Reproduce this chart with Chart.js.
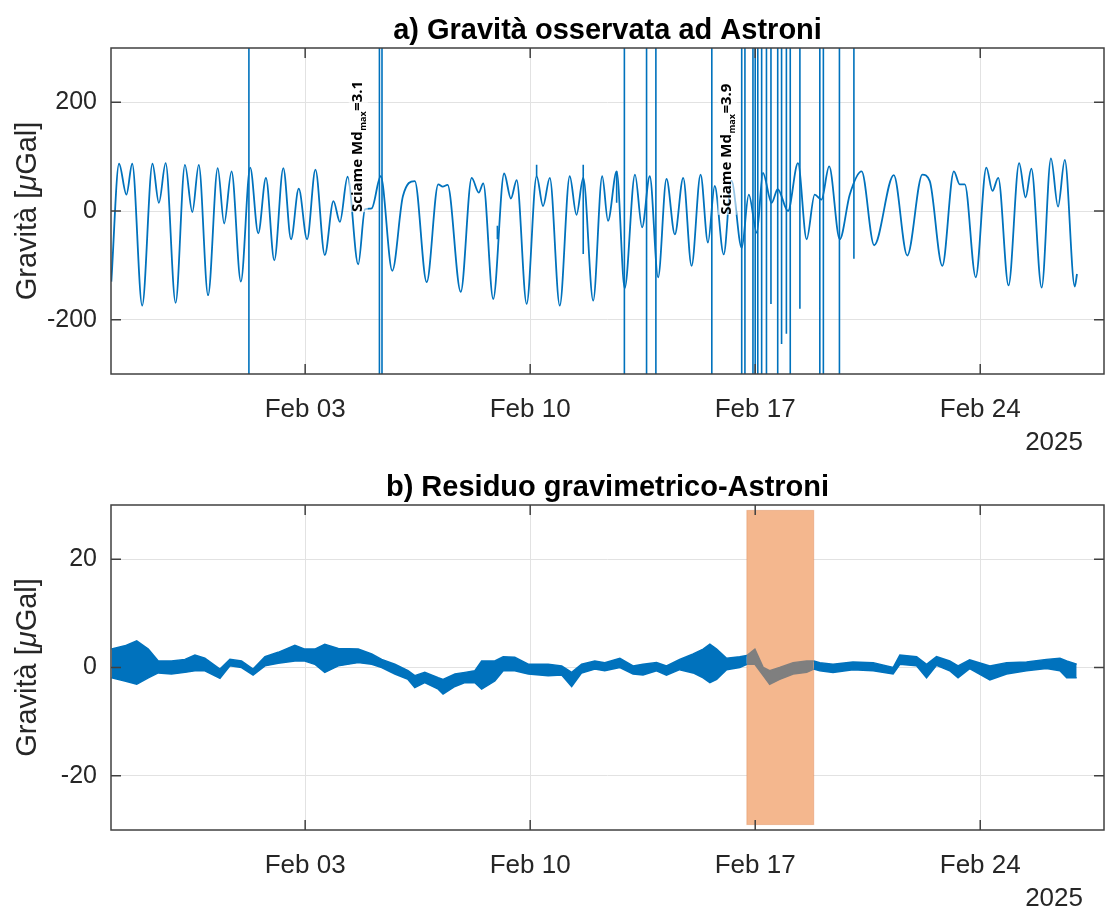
<!DOCTYPE html>
<html>
<head>
<meta charset="utf-8">
<script src="https://cdn.jsdelivr.net/npm/chart.js@4.4.1/dist/chart.umd.min.js"></script>
<style>
  body { margin: 0; background: #fff; }
  .box { position: absolute; left: 0; width: 1108px; }
</style>
</head>
<body>
<div class="box" style="top:0;height:455px"><canvas id="grav"></canvas></div>
<div class="box" style="top:455px;height:456px"><canvas id="res"></canvas></div>
<script>
// x values are days since 28 Jan 2025 00:00
var xTicks = [6, 13, 20, 27];
var xTickLabels = ['Feb 03', 'Feb 10', 'Feb 17', 'Feb 24'];
var yearLabel = '2025';

// a) observed gravity, turning points of the tidal curve [uGal]
var gravT = [-0.03, 0.21, 0.44, 0.62, 0.93, 1.25, 1.45, 1.66, 1.97, 2.26, 2.49, 2.69, 2.98, 3.28, 3.48, 3.71,
  4.00, 4.29, 4.54, 4.78, 5.04, 5.32, 5.56, 5.80, 6.06, 6.32, 6.61, 6.88, 7.08, 7.32, 7.65, 7.86, 8.07, 8.35,
  8.71, 9.04, 9.41, 9.78, 10.14, 10.28, 10.43, 10.84, 11.18, 11.40, 11.54, 11.85, 12.19, 12.40, 12.58, 12.89,
  13.20, 13.40, 13.61, 13.92, 14.23, 14.44, 14.65, 14.96, 15.24, 15.42, 15.69, 15.94, 16.26, 16.48, 16.72,
  16.98, 17.24, 17.50, 17.76, 18.02, 18.30, 18.53, 18.74, 19.02, 19.26, 19.58, 19.80, 20.05, 20.24, 20.51,
  20.70, 21.02, 21.33, 21.60, 21.85, 22.06, 22.30, 22.63, 22.94, 23.31, 23.70, 24.31, 24.73, 25.20, 25.43,
  25.82, 26.18, 26.36, 26.52, 26.86, 27.19, 27.38, 27.56, 27.88, 28.21, 28.41, 28.59, 28.91, 29.20, 29.42,
  29.63, 29.94, 30.01];
var gravV = [-130, 87, 30, 87, -174, 87, 15, 88, -169, 85, -2, 85, -155, 79, -23, 73,
  -130, 80, -41, 61, -91, 79, -52, 41, -52, 76, -81, 18, -20, 63, -98, 3, 5, 64,
  -110, 27, 55, -131, 49, 45, 48, -149, 61, 34, 51, -162, 69, 23, 57, -171,
  64, 9, 61, -174, 64, -7, 61, -165, 64, -18, 73, -142, 67, -30, 64,
  -122, 59, -43, 61, -101, 67, -58, 46, -80, 56, -68, 30, -40, 70, 15,
  40, 0, 88, -52, 30, 21, 82, -52, 30, 73, -63, 66, -82, 67, 55,
  -101, 73, 49, 49, -122, 80, 37, 61, -137, 88, 25, 78, -141, 97, 8,
  94, -139, -116];

// a) spikes in the record: time, lowest and highest value reached
var spikeT  = [4.25, 8.31, 8.39, 11.98, 13.20, 14.65, 15.69, 15.93, 16.62, 16.91, 18.65, 19.58, 19.68,
  19.93, 20.00, 20.08, 20.20, 20.35, 20.49, 20.70, 20.82, 20.97, 21.09, 21.39, 22.01, 22.12, 22.62, 23.07];
var spikeLo = [-400, -400, -400, -52, 64, -79, 15, -400, -400, -400, -400, -400, -400,
  -400, -400, -400, -400, -400, -171, -400, -245, -226, -400, -180, -400, -400, -400, -88];
var spikeHi = [400, 400, 400, -27, 85, 85, 73, 400, 400, 400, 400, 400, 400,
  400, 400, 400, 400, 400, 400, 400, 400, 400, 400, 400, 400, 400, 400, 400];

// swarm annotations
var swarmT = [7.76, 19.24];
var swarmY = [-2, -7];
var swarmMd = ['3.1', '3.9'];

// b) gravimetric residual, upper / lower edge of the noisy trace [uGal]
var resT = [-0.02, 0.39, 0.76, 1.12, 1.43, 1.84, 2.26, 2.57, 2.88, 3.35, 3.66, 4.02, 4.38, 4.75, 5.16, 5.68,
  5.99, 6.30, 6.61, 7.03, 7.65, 8.07, 8.38, 8.79, 9.20, 9.41, 9.72, 10.14, 10.29, 10.66, 10.97, 11.28,
  11.49, 11.90, 12.16, 12.52, 12.94, 13.56, 13.98, 14.29, 14.60, 15.01, 15.32, 15.79, 16.20, 16.51, 16.93,
  17.24, 17.65, 18.07, 18.38, 18.59, 18.80, 19.11, 19.52, 19.74, 19.99, 20.25, 20.45, 20.76, 21.18, 21.60,
  21.82, 22.01, 22.42, 23.04, 23.67, 24.29, 24.50, 25.02, 25.33, 25.64, 26.05, 26.31, 26.67, 27.30, 27.82,
  28.44, 29.06, 29.48, 29.69, 30.00];
var resHi = [3.4, 4.0, 4.9, 3.4, 1.2, 1.2, 1.5, 2.3, 1.7, -0.3, 1.5, 1.2, -0.3, 2.0, 2.8, 4.1,
  3.4, 3.4, 4.3, 3.5, 3.4, 2.5, 1.5, 0.6, -0.6, -1.5, -0.9, -1.9, -2.2, -1.2, -0.9, -0.6,
  1.2, 1.2, 2.0, 1.9, 0.6, 0.6, 0.3, -0.9, 0.6, 1.2, 0.9, 1.7, 0.3, 0.6, 0.9,
  0.3, 1.5, 2.5, 3.4, 4.3, 3.4, 1.7, 2.0, 2.2, 3.4, 0.0, -0.6, 0.0, 0.9, 1.2,
  1.2, 0.9, 0.6, 1.0, 0.9, 0.0, 2.3, 2.0, 0.6, 2.0, 1.2, 0.3, 1.4, 0.3, 0.9,
  1.0, 1.5, 1.7, 1.2, 0.6];
var resLo = [-1.9, -2.5, -3.1, -1.9, -1.0, -1.2, -0.9, -0.6, -0.6, -2.0, 0.3, 0.0, -1.4, 0.3, 0.8, 1.2,
  1.2, 0.6, -0.9, 0.3, 0.9, 0.6, 0.0, -1.2, -2.2, -3.7, -2.8, -4.0, -4.9, -3.5, -2.8, -2.8,
  -4.0, -2.5, -0.6, -0.6, -1.2, -1.5, -1.4, -3.5, -1.0, -0.3, -0.6, 0.0, -1.2, -1.4, -0.6,
  -1.4, -0.4, -1.0, -1.9, -2.8, -2.2, -0.4, 0.0, 0.6, 0.6, -1.5, -3.1, -2.2, -1.2, -0.9,
  -0.3, -0.6, -0.9, -0.4, -0.6, -1.2, 0.6, 0.3, -1.9, 0.4, -0.6, -1.9, -0.2, -2.3, -1.2,
  -0.6, -0.2, -0.6, -1.9, -1.9];

// b) highlighted interval (swarm)
var bandStart = 19.74, bandEnd = 21.82, bandLo = -29, bandHi = 29;

var BLUE = '#0072bd';
var FONT = '"Liberation Sans", Arial, sans-serif';
var INK = '#262626';

function pts(ts, vs) {
  return ts.map(function (t, i) { return { x: t, y: vs[i] }; });
}
function pick(from, to) {
  var keep = [];
  resT.forEach(function (t, i) { if (t >= from - 1e-6 && t <= to + 1e-6) keep.push(i); });
  return {
    hi: keep.map(function (i) { return { x: resT[i], y: resHi[i] }; }),
    lo: keep.map(function (i) { return { x: resT[i], y: resLo[i] }; })
  };
}

var frame = {
  id: 'frame',
  beforeDatasetsDraw: function (chart, args, o) {
    if (!o.band) return;
    var xs = chart.scales.x, ys = chart.scales.y, ctx = chart.ctx;
    var x0 = xs.getPixelForValue(bandStart), x1 = xs.getPixelForValue(bandEnd);
    var y0 = ys.getPixelForValue(bandHi), y1 = ys.getPixelForValue(bandLo);
    ctx.save();
    ctx.fillStyle = '#f4b78e';
    ctx.fillRect(x0, y0, x1 - x0, y1 - y0);
    ctx.strokeStyle = 'rgba(225,140,90,0.45)';
    ctx.lineWidth = 1;
    ctx.strokeRect(x0, y0, x1 - x0, y1 - y0);
    ctx.restore();
  },
  afterDraw: function (chart, args, o) {
    var a = chart.chartArea, ctx = chart.ctx, xs = chart.scales.x, ys = chart.scales.y;
    ctx.save();
    // swarm labels
    if (o.swarm) {
      swarmT.forEach(function (t, i) {
        var px = xs.getPixelForValue(t), py = ys.getPixelForValue(swarmY[i]);
        ctx.save();
        ctx.translate(px, py);
        ctx.rotate(-Math.PI / 2);
        var big = 'bold 15px "Open Sans", sans-serif', small = 'bold 9px "Open Sans", sans-serif';
        ctx.font = big; var w1 = ctx.measureText('Sciame Md').width;
        ctx.font = small; var w2 = ctx.measureText('max').width;
        ctx.font = big; var w3 = ctx.measureText('=' + swarmMd[i]).width;
        ctx.fillStyle = 'rgba(255,255,255,0.6)';
        ctx.fillRect(0, -13, w1 + w2 + w3 + 2, 19);
        ctx.fillStyle = '#000';
        ctx.textBaseline = 'alphabetic';
        ctx.font = big; ctx.fillText('Sciame Md', 0, 0);
        ctx.font = small; ctx.fillText('max', w1 + 0.5, 4);
        ctx.font = big; ctx.fillText('=' + swarmMd[i], w1 + w2 + 1, 0);
        ctx.restore();
      });
    }
    // box and inward ticks
    ctx.strokeStyle = '#404040';
    ctx.lineWidth = 1.5;
    ctx.strokeRect(a.left, a.top, a.right - a.left, a.bottom - a.top);
    ctx.beginPath();
    xs.ticks.forEach(function (t) {
      var px = xs.getPixelForValue(t.value);
      ctx.moveTo(px, a.bottom); ctx.lineTo(px, a.bottom - 10);
      ctx.moveTo(px, a.top); ctx.lineTo(px, a.top + 10);
    });
    ys.ticks.forEach(function (t) {
      var py = ys.getPixelForValue(t.value);
      ctx.moveTo(a.left, py); ctx.lineTo(a.left + 10, py);
      ctx.moveTo(a.right, py); ctx.lineTo(a.right - 10, py);
    });
    ctx.stroke();
    // title
    ctx.fillStyle = '#000';
    ctx.font = 'bold 29px ' + FONT;
    ctx.textAlign = 'center';
    ctx.textBaseline = 'alphabetic';
    ctx.fillText(o.title, (a.left + a.right) / 2, a.top - 9);
    // y label with italic mu
    ctx.fillStyle = INK;
    ctx.translate(28, (a.top + a.bottom) / 2);
    ctx.rotate(-Math.PI / 2);
    ctx.textAlign = 'left';
    ctx.textBaseline = 'middle';
    var f = '29px ' + FONT, fi = 'italic 29px ' + FONT;
    ctx.font = f; var p1 = ctx.measureText('Gravità [').width, p3 = ctx.measureText('Gal]').width;
    ctx.font = fi; var p2 = ctx.measureText('\u03bc').width;
    var x = -(p1 + p2 + p3) / 2;
    ctx.font = f; ctx.fillText('Gravità [', x, 0);
    ctx.font = fi; ctx.fillText('\u03bc', x + p1, 0);
    ctx.font = f; ctx.fillText('Gal]', x + p1 + p2, 0);
    ctx.restore();
    // year
    ctx.save();
    ctx.fillStyle = INK;
    ctx.font = '26px ' + FONT;
    ctx.textAlign = 'right';
    ctx.textBaseline = 'alphabetic';
    ctx.fillText(yearLabel, 1083, a.bottom + 76);
    ctx.restore();
  }
};

function axes(yMin, yMax, yTicks) {
  return {
    x: {
      type: 'linear', min: -0.04, max: 30.85,
      afterBuildTicks: function (s) { s.ticks = xTicks.map(function (v) { return { value: v }; }); },
      afterFit: function (s) { s.height = 81; },
      grid: { color: '#e2e2e2', drawTicks: false },
      border: { display: false },
      ticks: {
        padding: 20, color: INK, maxRotation: 0, autoSkip: false,
        font: { family: FONT, size: 26 },
        callback: function (v) { return xTickLabels[xTicks.indexOf(v)]; }
      }
    },
    y: {
      min: yMin, max: yMax,
      afterBuildTicks: function (s) { s.ticks = yTicks.map(function (v) { return { value: v }; }); },
      afterFit: function (s) { s.width = 111; },
      grid: { color: '#e2e2e2', drawTicks: false },
      border: { display: false },
      ticks: {
        padding: 14, color: INK,
        font: { family: FONT, size: 25 },
        callback: function (v) { return String(v); }
      }
    }
  };
}

var spikeData = [];
spikeT.forEach(function (t, i) {
  spikeData.push({ x: t, y: spikeLo[i] }, { x: t, y: spikeHi[i] }, { x: t, y: null });
});

new Chart(document.getElementById('grav'), {
  type: 'line',
  data: {
    datasets: [
      { data: pts(gravT, gravV), borderColor: BLUE, borderWidth: 1.8, pointRadius: 0,
        cubicInterpolationMode: 'monotone', fill: false },
      { data: spikeData, borderColor: BLUE, borderWidth: 1.6, pointRadius: 0, tension: 0,
        spanGaps: false, fill: false }
    ]
  },
  options: {
    responsive: true, maintainAspectRatio: false, animation: false, events: [],
    layout: { padding: { top: 48, right: 4, left: 0, bottom: 0 } },
    scales: axes(-300, 300, [-200, 0, 200]),
    plugins: {
      legend: { display: false }, tooltip: { enabled: false },
      frame: { title: 'a) Gravità osservata ad Astroni', swarm: true }
    }
  },
  plugins: [frame]
});

var before = pick(-1, bandStart), inBand = pick(bandStart, bandEnd), after = pick(bandEnd, 99);
function pair(part, color) {
  return [
    { data: part.hi, borderColor: color, borderWidth: 1.5, pointRadius: 0, tension: 0, fill: false },
    { data: part.lo, borderColor: color, borderWidth: 1.5, pointRadius: 0, tension: 0,
      fill: '-1', backgroundColor: color }
  ];
}

new Chart(document.getElementById('res'), {
  type: 'line',
  data: {
    datasets: [].concat(pair(before, BLUE), pair(inBand, '#7f7f7f'), pair(after, BLUE))
  },
  options: {
    responsive: true, maintainAspectRatio: false, animation: false, events: [],
    layout: { padding: { top: 50, right: 4, left: 0, bottom: 0 } },
    scales: axes(-30, 30, [-20, 0, 20]),
    plugins: {
      legend: { display: false }, tooltip: { enabled: false },
      filler: { propagate: false },
      frame: { title: 'b) Residuo gravimetrico-Astroni', band: true }
    }
  },
  plugins: [frame]
});
</script>
</body>
</html>
